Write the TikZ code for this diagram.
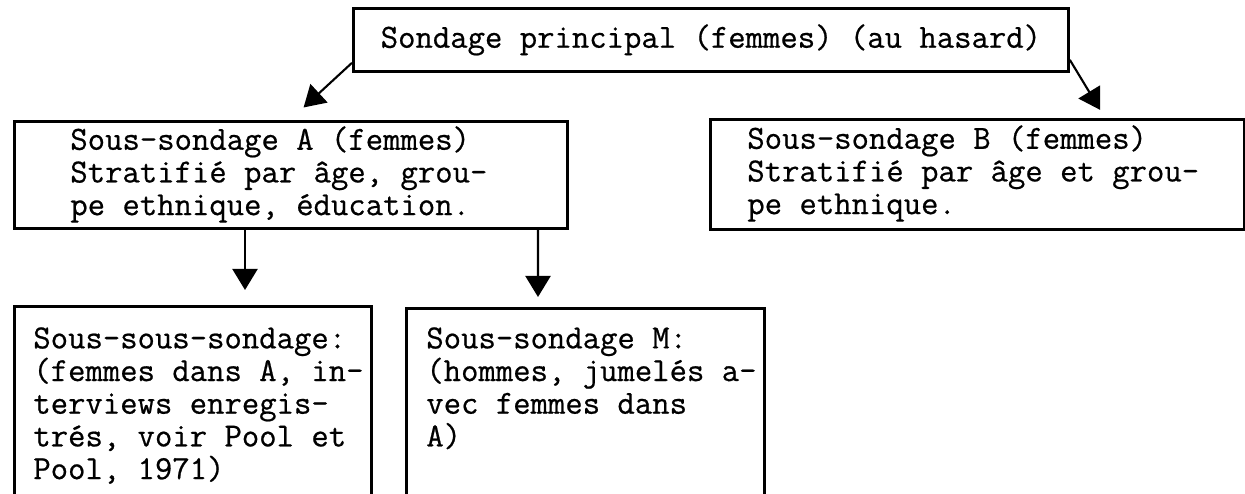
\documentclass[tikz,border=0pt]{standalone}
\usepackage{fontspec}
\usepackage{tikz}
\usetikzlibrary{positioning, arrows.meta}
\newfontfamily\typefont[FakeBold=0.6]{Latin Modern Mono}
\newcommand{\typew}{\fontsize{19.2pt}{18.6pt}\selectfont\typefont\lineskiplimit=-\maxdimen}
\tikzstyle{topbox} = [rectangle, 
anchor=north west, 
minimum width=14.3cm, 
minimum height=1.26cm, 
inner sep=0pt, 
text centered, 
draw=black, 
line width=1.6pt, 
font=\typew]
\tikzstyle{samplebox} = [rectangle, 
anchor=north west, 
inner sep=0pt, 
draw=black, 
line width=1.6pt]
\tikzstyle{boxtext} = [anchor=north west, 
inner sep=0pt, 
align=left, 
font=\typew]
\tikzstyle{arrow} = [line width=1.2pt, -{Triangle[length=0.42cm, width=0.5cm]}]

\begin{document}
\begin{tikzpicture}
\useasboundingbox (0,0) rectangle (24.9,-9.88);
\clip (0,0) rectangle (24.9,-9.88);

\node (main) [topbox] at (7.04,-0.14) {Sondage principal (femmes) (au hasard)};
\node (subA) [samplebox, minimum width=11.06cm, minimum height=2.14cm] at (0.26,-2.40) {};
\node (subB) [samplebox, minimum width=10.68cm, minimum height=2.2cm] at (14.18,-2.36) {};
\node (subsub) [samplebox, minimum width=7.14cm, minimum height=4.4cm] at (0.26,-6.10) {};
\node (subM) [samplebox, minimum width=7.16cm, minimum height=4.4cm] at (8.10,-6.14) {};

\node (subAtext) [boxtext, below right=0.12cm and 1.14cm of subA.north west] {Sous-sondage A (femmes)\\Stratifié par âge, grou-\\pe ethnique, éducation.};
\node (subBtext) [boxtext, below right=0.14cm and 0.76cm of subB.north west] {Sous-sondage B (femmes)\\Stratifié par âge et grou-\\pe ethnique.};
\node (subsubtext) [boxtext, below right=0.44cm and 0.40cm of subsub.north west] {Sous-sous-sondage:\\(femmes dans A, in-\\terviews enregis-\\trés, voir Pool et\\Pool, 1971)};
\node (subMtext) [boxtext, below right=0.40cm and 0.42cm of subM.north west] {Sous-sondage M:\\(hommes, jumelés a-\\vec femmes dans\\A)};

\draw [arrow, shorten >=0.37cm] ([yshift=0.2cm]main.south west) -- ([xshift=5.54cm]subA.north west);
\draw [arrow, shorten >=0.19cm] ([yshift=0.26cm]main.south east) -- ([xshift=7.92cm]subB.north west);
\draw [arrow, shorten >=0.3cm] ([xshift=4.64cm]subA.south west) -- ([xshift=4.64cm]subsub.north west);
\draw [arrow, shorten >=0.2cm] ([xshift=10.5cm]subA.south west) -- ([xshift=2.66cm]subM.north west);
\end{tikzpicture}
\end{document}
